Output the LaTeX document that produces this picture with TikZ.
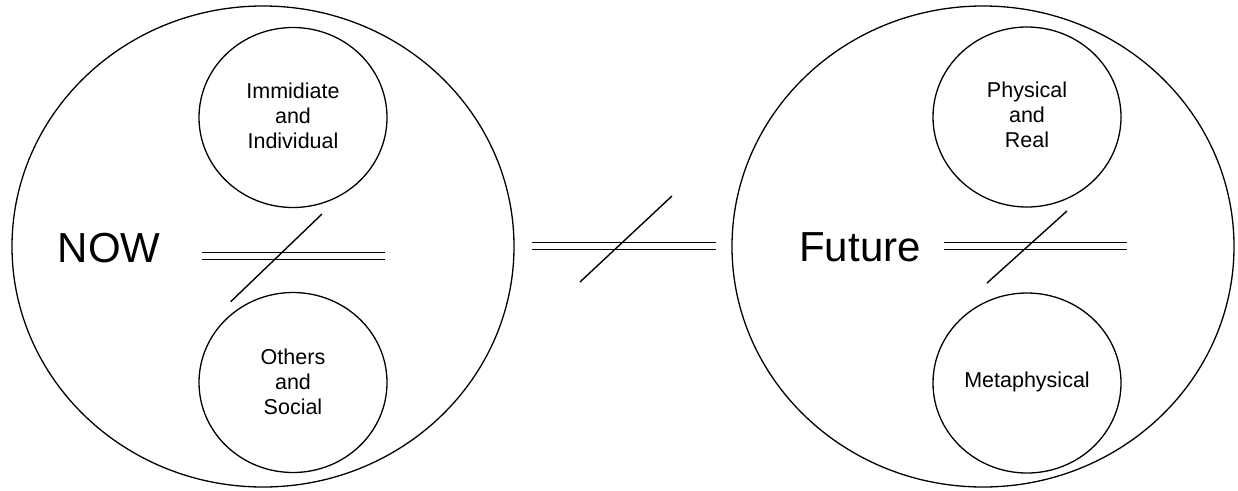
\documentclass[tikz,border=0pt]{standalone}
\usepackage{fontspec}
\setmainfont{Liberation Sans}
\usetikzlibrary{shapes.geometric}
\begin{document}
\begin{tikzpicture}[x=1pt,y=-1pt,
  outer/.style={draw, ellipse, line width=1.3pt, minimum width=502pt, minimum height=481pt, inner sep=0pt},
  inner/.style={draw, ellipse, line width=1.3pt, minimum width=188pt, minimum height=180pt, inner sep=0pt, align=center, font=\fontsize{21.5}{25}\selectfont},
  bigtext/.style={font=\fontsize{42}{50}\selectfont, inner sep=0pt, anchor=base},
  neq/.style={draw, double, double distance=6pt, line width=1.4pt},
  slash/.style={draw, line width=1.4pt}]
\useasboundingbox (0,0) rectangle (1238,490);
% outer ellipses
\node[outer] (now) at (263,246.5) {};
\node[outer] (fut) at (983,246.5) {};
% inner circles
\node[inner] (ii) at (293,117.5) {};
\node[inner] (os) at (293,382.5) {};
\node[inner] (pr) at (1027,117) {};
\node[inner] (mp) at (1027,383) {};
\node[align=center, font=\fontsize{21.5}{25}\selectfont, inner sep=0pt] (iit) at ([yshift=2pt]ii.center) {Immidiate\\and\\Individual};
\node[align=center, font=\fontsize{21.5}{25}\selectfont, inner sep=0pt] (ost) at ([yshift=1pt]os.center) {Others\\and\\Social};
\node[align=center, font=\fontsize{21.5}{25}\selectfont, inner sep=0pt] (prt) at ([yshift=2pt]pr.center) {Physical\\and\\Real};
\node[align=center, font=\fontsize{21.5}{25}\selectfont, inner sep=0pt] (mpt) at ([yshift=1pt]mp.center) {Metaphysical};
% labels
\node[bigtext] (nowlbl) at (109,262) {NOW};
\node[bigtext] (futlbl) at (860,261) {Future};
% not-equal signs
\coordinate (la) at (202,256);
\coordinate (lb) at (385,256);
\coordinate (lc) at (230.7,301.7);
\coordinate (ld) at (322,214);
\coordinate (ma) at (532,246);
\coordinate (mb) at (716,246);
\coordinate (mc) at (580,282);
\coordinate (md) at (672,196);
\coordinate (ra) at (944,246);
\coordinate (rb) at (1127,246);
\coordinate (rc) at (987,283);
\coordinate (rd) at (1067,211);
\draw[neq] (la) -- (lb);
\draw[slash] (lc) -- (ld);
\draw[neq] (ma) -- (mb);
\draw[slash] (mc) -- (md);
\draw[neq] (ra) -- (rb);
\draw[slash] (rc) -- (rd);
\end{tikzpicture}
\end{document}
